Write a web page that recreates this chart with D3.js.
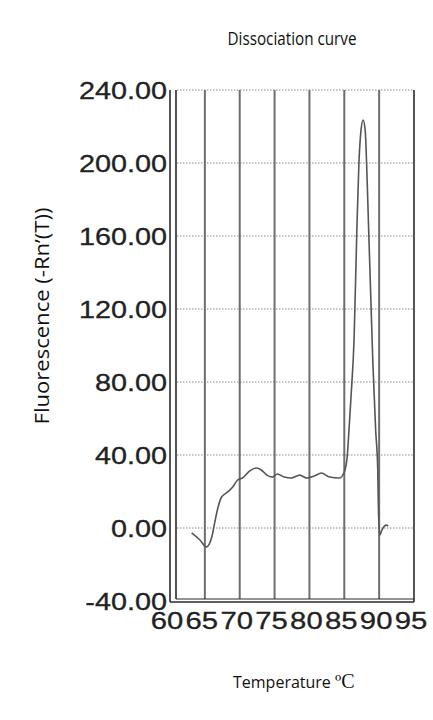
<!DOCTYPE html>
<html>
<head>
<meta charset="utf-8">
<script src="https://cdn.jsdelivr.net/npm/d3@7"></script>
<style>
  html, body { margin: 0; padding: 0; background: #fff; }
  svg { display: block; }
</style>
</head>
<body>
<div id="chart"></div>
<script>
// Melt curve readings (temperature in ºC, fluorescence -Rn'(T))
const temps = [63.1, 64.3, 65.2, 66.0, 66.4, 66.9, 67.4, 68.1, 69.0, 69.7,
  70.4, 71.4, 72.4, 73.1, 73.9, 74.7, 75.4, 76.4, 77.4, 78.6,
  79.6, 80.7, 81.7, 82.9, 84.3, 85.0, 85.4, 85.7, 86.0, 86.4,
  86.8, 87.1, 87.4, 87.7, 88.0, 88.2, 88.5, 88.8, 89.1, 89.5,
  89.8, 89.9, 90.1, 90.4, 91.0, 91.3];
const fluor = [-2.7, -6.6, -10.4, -4.9, 2.7, 11.5, 17.0, 19.2, 22.5, 26.3,
  27.4, 31.2, 32.9, 31.8, 29.0, 27.9, 29.6, 27.9, 27.4, 29.0,
  27.4, 28.5, 30.1, 27.9, 27.4, 30.7, 38.4, 55.3, 74.0, 103,
  163, 200, 218, 223.6, 218, 200, 163, 126.6, 90.4, 53.7,
  31.8, 9.9, -3.8, -1.1, 1.6, 1.1];

const xTicks = [60, 65, 70, 75, 80, 85, 90, 95];
const yTicks = [-40, 0, 40, 80, 120, 160, 200, 240];

const W = 433, H = 720;
const svg = d3.select('#chart').append('svg')
  .attr('width', W).attr('height', H);

const x = d3.scaleLinear().domain([60, 95]).range([170, 414]);
const y = d3.scaleLinear().domain([-40, 240]).range([601, 90]);

const tickFont = "'Liberation Sans', Arial, sans-serif";
const labelFont = "'Open Sans', 'Noto Sans', sans-serif";

// stretch text horizontally to match the wide tick font
function stretch(sel, sx) {
  sel.each(function () {
    const len = this.getComputedTextLength();
    d3.select(this).attr('textLength', len * sx).attr('lengthAdjust', 'spacingAndGlyphs');
  });
}
function fitTo(sel, w) {
  sel.attr('textLength', w).attr('lengthAdjust', 'spacingAndGlyphs');
}

// ─── Horizontal dotted grid ───
svg.append('g').selectAll('line')
  .data(yTicks.filter(d => d > -40))
  .join('line')
  .attr('x1', x(60) + 7).attr('x2', x(95))
  .attr('y1', d => y(d)).attr('y2', d => y(d))
  .attr('stroke', '#8a8a8a')
  .attr('stroke-width', 1)
  .attr('stroke-dasharray', '1.5,1.5');

// ─── Vertical grid ───
svg.append('g').selectAll('line')
  .data(xTicks.filter(d => d > 60 && d < 95))
  .join('line')
  .attr('x1', d => x(d)).attr('x2', d => x(d))
  .attr('y1', y(240)).attr('y2', y(-40) - 2)
  .attr('stroke', '#6e6e6e')
  .attr('stroke-width', 2);

// ─── Frame ───
const frame = svg.append('g').attr('stroke', '#2a2a2a').attr('fill', 'none');
frame.append('line').attr('x1', x(60)).attr('x2', x(60)).attr('y1', y(240)).attr('y2', y(-40) + 1).attr('stroke-width', 1.6);
frame.append('line').attr('x1', x(60) + 6).attr('x2', x(60) + 6).attr('y1', y(240)).attr('y2', y(-40) - 2).attr('stroke-width', 1.6);
frame.append('line').attr('x1', x(60)).attr('x2', x(95)).attr('y1', y(-40) + 1).attr('y2', y(-40) + 1).attr('stroke-width', 1.6);
frame.append('line').attr('x1', x(60) + 6).attr('x2', x(95)).attr('y1', y(-40) - 2).attr('y2', y(-40) - 2).attr('stroke-width', 1.2);
frame.append('line').attr('x1', x(95)).attr('x2', x(95)).attr('y1', y(240)).attr('y2', y(-40) + 1).attr('stroke-width', 1.6);

// ─── Curve ───
const pts = temps.map((t, i) => [t, fluor[i]]);
const line = d3.line()
  .x(d => x(d[0]))
  .y(d => y(d[1]))
  .curve(d3.curveMonotoneX);

svg.append('path')
  .attr('d', line(pts))
  .attr('fill', 'none')
  .attr('stroke', '#555')
  .attr('stroke-width', 1.6);

// ─── Y tick labels ───
const yLab = svg.append('g').selectAll('text')
  .data(yTicks)
  .join('text')
  .attr('x', 167)
  .attr('y', d => y(d))
  .attr('dy', '0.36em')
  .attr('text-anchor', 'end')
  .attr('font-family', tickFont)
  .attr('font-size', 24)
  .attr('fill', '#222')
  .attr('stroke', '#222')
  .attr('stroke-width', 0.3)
  .text(d => d3.format('.2f')(d).replace('−', '-'));
stretch(yLab, 1.2);

// ─── X tick labels ───
const xLab = svg.append('g').selectAll('text')
  .data(xTicks)
  .join('text')
  .attr('x', d => x(d) - 3)
  .attr('y', 629)
  .attr('text-anchor', 'middle')
  .attr('font-family', tickFont)
  .attr('font-size', 24)
  .attr('fill', '#222')
  .attr('stroke', '#222')
  .attr('stroke-width', 0.3)
  .text(d => d);
stretch(xLab, 1.22);

// ─── Titles ───
svg.append('text')
  .attr('x', 292).attr('y', 45)
  .attr('text-anchor', 'middle')
  .attr('font-family', labelFont)
  .attr('font-size', 18)
  .attr('fill', '#111')
  .text('Dissociation curve')
  .call(fitTo, 129);

svg.append('text')
  .attr('transform', 'translate(49,316) rotate(-90)')
  .attr('text-anchor', 'middle')
  .attr('font-family', labelFont)
  .attr('font-size', 20)
  .attr('fill', '#111')
  .text('Fluorescence (-Rn’(T))')
  .call(fitTo, 217);

const xt = svg.append('text')
  .attr('x', 233).attr('y', 688)
  .attr('font-family', labelFont)
  .attr('font-size', 16)
  .attr('fill', '#111');
xt.append('tspan').text('Temperature ');
xt.append('tspan')
  .attr('font-family', "'Liberation Serif', 'DejaVu Serif', serif")
  .attr('font-size', 20)
  .text('ºC');
</script>
</body>
</html>
